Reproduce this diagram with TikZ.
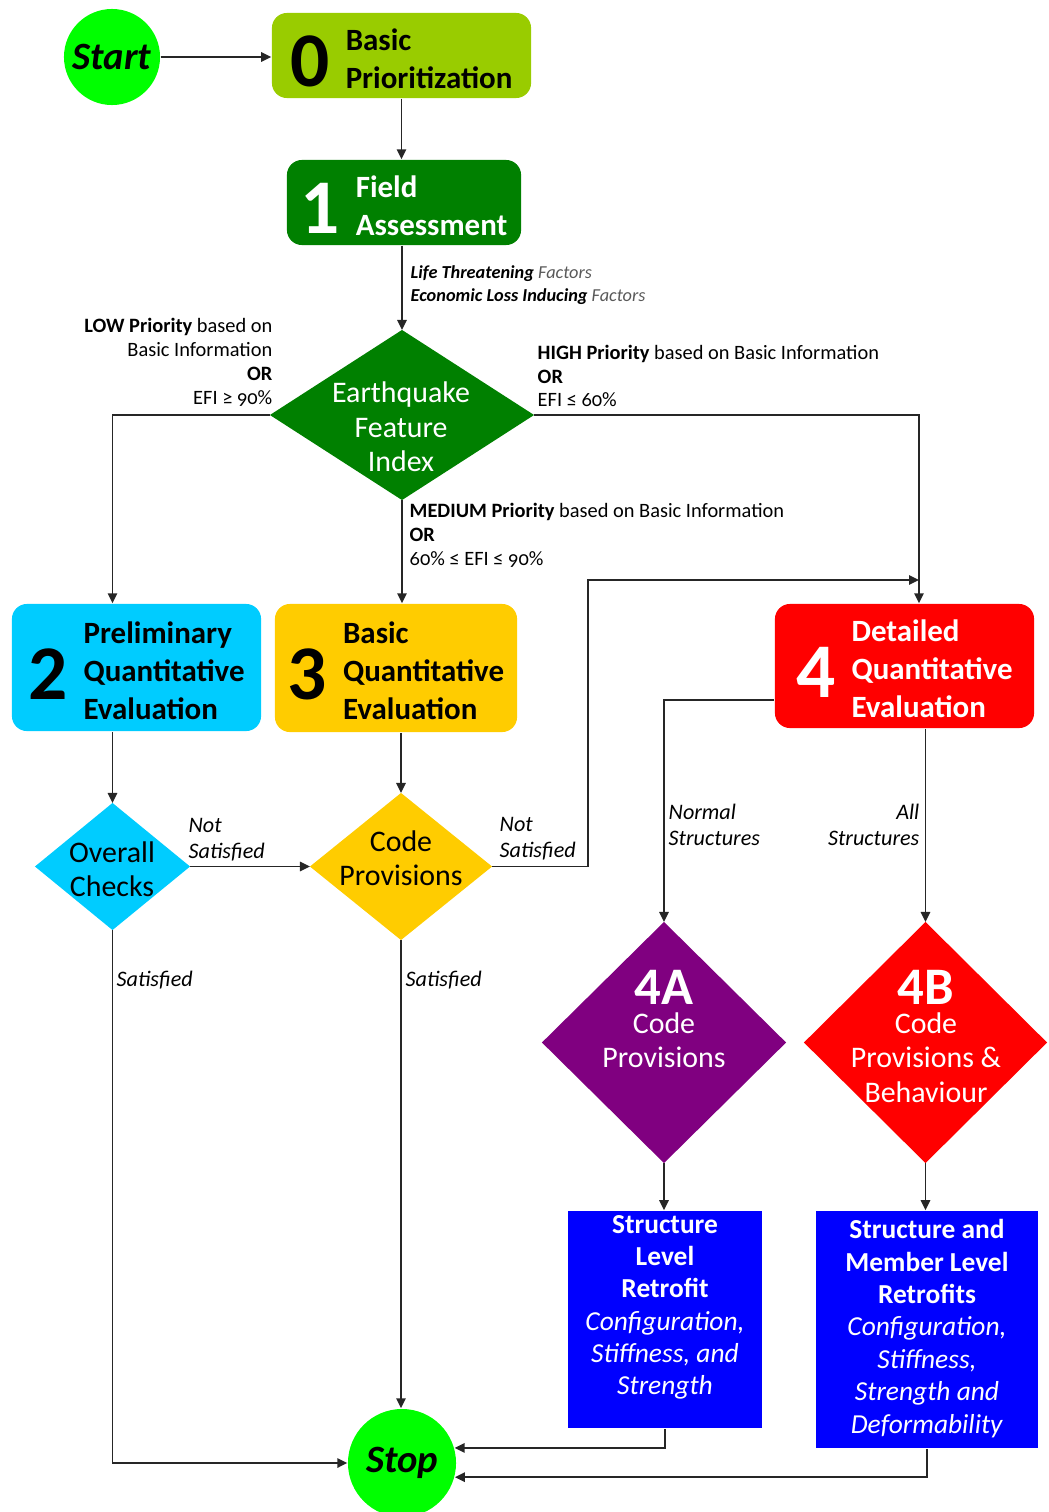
\documentclass[tikz,border=0pt]{standalone}
\usepackage{fontspec}
\setmainfont{Carlito}
\newfontfamily\oldnum[Numbers=OldStyle]{Carlito}
\usetikzlibrary{shapes.geometric,arrows.meta}

\definecolor{startgreen}{HTML}{00FF00}
\definecolor{prioritygreen}{HTML}{99CC00}
\definecolor{fieldgreen}{HTML}{008000}
\definecolor{prelimcyan}{HTML}{00CCFF}
\definecolor{basicyellow}{HTML}{FFCC00}
\definecolor{detailred}{HTML}{FF0000}
\definecolor{codepurple}{HTML}{800080}
\definecolor{retroblue}{HTML}{0000FF}

\tikzset{
	stepbox/.style={rectangle,rounded corners=1.5mm,inner sep=0pt,font=\fontsize{8.8}{10.8}\selectfont\bfseries},
	decision/.style={diamond,inner sep=0pt,outer sep=0pt},
	decisiontext/.style={inner sep=0pt,align=center,font=\fontsize{8.5}{9.8}\selectfont},
	retrofit/.style={rectangle,fill=retroblue,text=white,inner sep=0pt,font=\fontsize{7.8}{9.2}\selectfont},
	terminal/.style={circle,fill=startgreen,inner sep=0pt,font=\fontsize{11}{13}\selectfont\bfseries\itshape},
	note/.style={inner sep=0pt,font=\fontsize{5.8}{6.8}\selectfont\oldnum},
	branch/.style={inner sep=0pt,font=\fontsize{6.3}{7.4}\selectfont\itshape},
	flow/.style={draw=black!85,line width=0.45pt,-{Triangle[length=1mm,width=0.95mm]}}
}

% big step number beside its title
\newcommand{\steplabel}[2]{%
	\raisebox{-1.8pt}[\height][\depth]{%
	\begin{tabular}{@{}c@{\hspace{1.6mm}}l@{}}%
		$\vcenter{\hbox{\fontsize{22}{22}\selectfont #1}}$ & \begin{tabular}{@{}l@{}}#2\end{tabular}%
	\end{tabular}}}

\begin{document}
\begin{tikzpicture}[x=0.01cm,y=-0.01cm]
	\useasboundingbox (0,0) rectangle (1048,1512);
	% start and stop
	\node[terminal,minimum size=0.96cm] (start) at (112,57) {Start};
	\node[terminal,minimum size=1.08cm] (stop) at (402,1463) {Stop};
	% steps
	\node[stepbox,fill=prioritygreen,minimum width=2.59cm,minimum height=0.85cm] (0) at (401.5,55.5) {\steplabel{0}{Basic\\Prioritization}};
	\node[stepbox,fill=fieldgreen,text=white,minimum width=2.34cm,minimum height=0.85cm] (1) at (404,202.5) {\steplabel{1}{Field\\Assessment}};
	\node[stepbox,fill=prelimcyan,minimum width=2.49cm,minimum height=1.27cm] (2) at (136.5,667.5) {\steplabel{2}{Preliminary\\Quantitative\\Evaluation}};
	\node[stepbox,fill=basicyellow,minimum width=2.42cm,minimum height=1.28cm] (3) at (396,668) {\steplabel{3}{Basic\\Quantitative\\Evaluation}};
	\node[stepbox,fill=detailred,text=white,minimum width=2.59cm,minimum height=1.24cm] (4) at (904.5,666) {\steplabel{4}{Detailed\\Quantitative\\Evaluation}};
	% decisions
	\node[decision,fill=fieldgreen,minimum width=2.64cm,minimum height=1.70cm] (efi) at (402,415) {};
	\node[decisiontext,text=white] (efitext) at (401,427) {Earthquake\\Feature\\Index};
	\node[decision,fill=prelimcyan,minimum width=1.55cm,minimum height=1.27cm] (oc) at (112.5,866.5) {};
	\node[decisiontext] (octext) at (112,869) {Overall\\Checks};
	\node[decision,fill=basicyellow,minimum width=1.82cm,minimum height=1.47cm] (cp) at (401,866.5) {};
	\node[decisiontext] (cptext) at (401,858) {Code\\Provisions};
	\node[decision,fill=codepurple,minimum width=2.44cm,minimum height=2.41cm] (4A) at (664,1042.5) {};
	\node[decisiontext,text=white,anchor=north] (4Atext) at (664,970) {{\fontsize{15}{15}\selectfont\bfseries 4A}\\[-1.8pt]Code\\Provisions};
	\node[decision,fill=detailred,minimum width=2.43cm,minimum height=2.41cm] (4B) at (925.5,1042.5) {};
	\node[decisiontext,text=white,anchor=north] (4Btext) at (926,970) {{\fontsize{15}{15}\selectfont\bfseries 4B}\\[-1.8pt]Code\\Provisions \&\\Behaviour};
	% retrofits
	\node[retrofit,minimum width=1.94cm,minimum height=2.17cm] (bA) at (665,1319.5) {\raisebox{3.4pt}[\height][\depth]{\begin{tabular}{@{}c@{}}\textbf{Structure}\\\textbf{Level}\\\textbf{Retrofit}\\\textit{Configuration,}\\\textit{Stiffness, and}\\\textit{Strength}\end{tabular}}};
	\node[retrofit,minimum width=2.22cm,minimum height=2.37cm] (bB) at (927,1329.5) {\begin{tabular}{@{}c@{}}\textbf{Structure and}\\\textbf{Member Level}\\\textbf{Retrofits}\\\textit{Configuration,}\\\textit{Stiffness,}\\\textit{Strength and}\\\textit{Deformability}\end{tabular}};
	% connectors
	\coordinate (loop) at (588,580);
	\coordinate (in4) at (919,580);
	\draw[flow] (start.east) -- (start.east -| 0.west);
	\draw[flow] (0.south) -- (0.south |- 1.north);
	\draw[flow] (efi |- 1.south) -- (efi.north);
	\draw[flow] (efi.west) -| (oc |- 2.north);
	\draw[flow] (efi.south) -- (efi |- 3.north);
	\draw[flow] (efi.east) -| (4.north -| in4);
	\draw[flow] (oc |- 2.south) -- (oc.north);
	\draw[flow] (cp |- 3.south) -- (cp.north);
	\draw[flow] (oc.east) -- (cp.west);
	\draw[flow] (cp.east) -| (loop) -- (in4);
	\draw[flow] ([yshift=-0.34cm]4.west) -| (4A.north);
	\draw[flow] (4B |- 4.south) -- (4B.north);
	\draw[flow] (4A.south) -- (4A.south |- bA.north);
	\draw[flow] (4B.south) -- (4B.south |- bB.north);
	\draw[flow] (cp.south) -- (cp.south |- stop.north);
	\draw[flow] (oc.south) |- (stop.west);
	\draw[flow] (bA.south) |- (stop.16);
	\draw[flow] (bB.south) |- (stop.-15);
	% branch labels
	\node[note,anchor=west,align=left,font=\fontsize{5.2}{6.4}\selectfont\itshape] (factors) at (410,285) {\textbf{Life Threatening} {\color{black!65}Factors}\\\textbf{Economic Loss Inducing} {\color{black!65}Factors}};
	\node[note,anchor=east,align=right] (low) at (273,362) {\textbf{LOW Priority} based on\\Basic Information\\\textbf{OR}\\EFI ≥ 90\%};
	\node[note,anchor=west,align=left] (high) at (537,376) {\textbf{HIGH Priority} based on Basic Information\\\textbf{OR}\\EFI ≤ 60\%};
	\node[note,anchor=west,align=left] (medium) at (409,535) {\textbf{MEDIUM Priority} based on Basic Information\\\textbf{OR}\\60\% ≤ EFI ≤ 90\%};
	\node[branch,anchor=west,align=left] (ocnot) at (188,840) {Not\\Satisfied};
	\node[branch,anchor=west,align=left] (cpnot) at (499,839) {Not\\Satisfied};
	\node[branch,anchor=west,align=left] (normal) at (668,825) {Normal\\Structures};
	\node[branch,anchor=east,align=right] (all) at (920,825) {All\\Structures};
	\node[branch,anchor=west] (ocsat) at (116,980) {Satisfied};
	\node[branch,anchor=west] (cpsat) at (405,980) {Satisfied};
\end{tikzpicture}
\end{document}
